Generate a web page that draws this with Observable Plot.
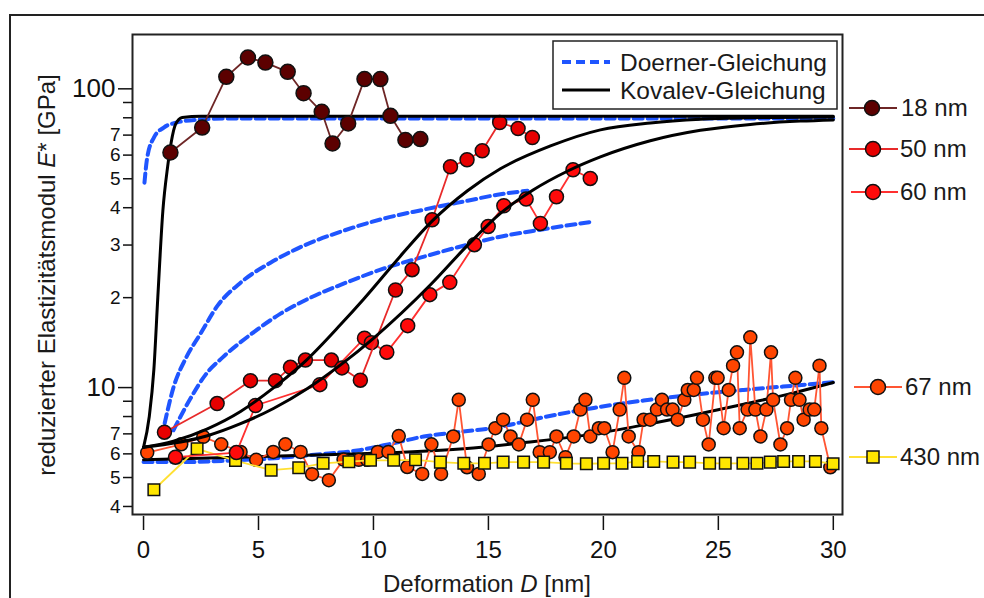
<!DOCTYPE html>
<html><head><meta charset="utf-8">
<script src="https://cdn.jsdelivr.net/npm/d3@7"></script>
<script src="https://cdn.jsdelivr.net/npm/@observablehq/plot@0.6"></script>
<style>
html,body{margin:0;padding:0;background:#fff;overflow:hidden;}
#wrap{position:relative;width:984px;height:598px;overflow:hidden;}
#border{position:absolute;left:9px;top:14px;width:1200px;height:1200px;border:2px solid #222;box-sizing:border-box;}
#chart{position:absolute;left:0;top:0;}
</style></head><body>
<div id="wrap"><div id="border"></div><div id="chart"></div></div>
<script>
// ---------- tick values ----------
const xTicks = [0, 5, 10, 15, 20, 25, 30];
const yMajorTicks = [10, 100];
const yLabeledMinorTicks = [4, 5, 6, 7, 20, 30, 40, 50, 60, 70];
const yUnlabeledTicks = [8, 9, 80, 90];

// ---------- measured series ----------
const n18x = [1.17,2.55,3.60,4.54,5.30,6.27,6.96,7.75,8.22,8.90,9.61,10.30,10.74,11.39,12.04];
const n18y = [61.2,74.2,109.7,127.3,122.4,114,96.7,83.8,65.6,76.6,107.8,107.8,81.2,67.4,67.9];

const n50x = [0.91,3.20,4.65,5.74,6.39,7.04,8.17,8.63,9.43,10.96,11.68,12.55,13.35,14.07,14.73,15.49,16.29,16.91];
const n50y = [7.09,8.84,10.55,10.55,11.69,12.36,12.36,11.64,10.59,21.22,24.81,36.46,54.84,57.88,62.03,77.15,73.66,68.72];

const n60x = [1.39,4.04,4.87,7.67,9.61,9.91,10.58,11.49,12.45,13.32,14.39,14.99,15.67,16.64,17.26,17.96,18.68,19.43];
const n60y = [5.85,6.06,8.71,10.23,14.64,14.14,13.14,16.12,20.47,22.50,30.08,34.63,40.61,42.77,35.44,43.53,53.59,50.12];

const n67x = [0.16,1.64,2.60,3.38,4.22,4.90,5.64,6.17,6.83,7.33,8.06,8.70,9.36,9.73,10.19,10.65,11.10,11.47,12.12,12.52,12.94,13.47,13.71,14.07,14.58,15.01,15.30,15.64,15.96,16.32,16.68,16.93,17.23,17.67,17.96,18.35,18.71,19.00,19.22,19.43,19.80,20.04,20.40,20.71,20.91,21.10,21.53,21.75,22.04,22.33,22.55,22.77,23.01,23.23,23.52,23.67,23.93,24.07,24.33,24.58,24.87,24.97,25.23,25.45,25.64,25.81,25.93,26.27,26.39,26.61,26.83,27.09,27.29,27.38,27.70,27.99,28.16,28.35,28.53,28.71,28.97,29.17,29.40,29.48,29.87];
const n67y = [6.06,6.46,6.84,6.46,6.09,5.73,6.09,6.46,6.09,5.13,4.90,5.74,5.73,5.73,6.09,6.09,6.88,5.42,5.14,6.46,5.14,6.86,9.10,5.41,5.14,6.45,7.31,7.81,6.86,6.45,7.81,9.10,6.08,6.08,6.86,5.85,6.86,8.44,9.10,6.86,7.31,7.31,6.08,8.44,10.78,6.86,6.08,7.81,7.81,8.44,9.10,8.44,8.44,7.81,9.10,9.82,9.82,10.78,7.81,6.45,10.78,10.78,7.31,9.82,11.84,13.12,7.31,8.44,14.73,8.44,6.86,8.44,13.12,9.10,6.45,7.31,9.10,10.78,9.10,7.81,8.44,8.44,11.84,7.31,5.41];

const n430x = [0.45,2.33,4.00,5.55,6.75,7.81,8.93,9.87,10.88,11.83,12.91,13.93,14.83,15.64,16.53,17.40,18.39,19.26,20.01,20.81,21.49,22.19,23.03,23.75,24.62,25.30,26.07,26.68,27.26,27.84,28.49,29.22,29.99];
const n430y = [4.55,6.24,5.70,5.29,5.39,5.58,5.65,5.71,5.71,5.73,5.63,5.58,5.58,5.63,5.63,5.63,5.58,5.56,5.58,5.58,5.66,5.66,5.63,5.63,5.58,5.58,5.58,5.58,5.63,5.66,5.66,5.66,5.56];

// ---------- model curves ----------
const dor18x = [0.04,0.16,0.45,0.88,1.47,2.33,3.78,30];
const dor18y = [48.5,58.9,68.7,74.2,77.2,78.8,79.6,79.6];
const dor50x = [0.92,1.30,1.83,2.48,3.22,4.22,5.52,6.96,8.70,10.43,12.17,14.09,15.39,16.70];
const dor50y = [7.6,10.0,12.5,15.16,18.8,22.45,26.18,29.85,33.5,36.75,39.38,42.21,44.2,45.6];
const dor60x = [1.30,2.04,2.70,3.43,4.65,5.96,7.26,8.70,10.43,12.04,14.09,15.52,17.26,19.52];
const dor60y = [7.2,9.19,11.05,12.6,15.04,17.68,20.0,22.28,25.0,27.22,30.08,31.99,33.76,35.91];
const dor67x = [0,1.61,3.78,5.96,7.55,9.29,10.74,12.19,13.86,15.23,17.40,19.58,21.75,23.93,26.10,28.27,30.0];
const dor67y = [5.63,5.63,5.70,5.82,5.97,6.16,6.48,6.86,7.12,7.33,7.96,8.55,9.05,9.47,9.82,10.15,10.42];

const kov18x = [0,0.25,0.45,0.62,0.84,1.05,1.2,1.39,1.68,2.5,30];
const kov18y = [6.31,8.0,11.5,20,39,55,66,76,80.2,80.9,80.9];
const kov50x = [0,1.30,2.78,4.22,5.65,7.04,8.57,9.57,11.17,12.57,14.09,15.52,17.70,19.87,22.04,24.22,26.39,30];
const kov50y = [6.31,6.62,7.28,8.32,9.98,12.27,16.26,19.77,27.54,36.2,45.6,54.0,64.4,72.9,76.9,79.1,80.0,80.5];
const kov60x = [0,2.78,4.22,5.65,7.13,8.57,10.0,12.48,14.09,15.52,16.96,18.43,19.87,22.04,24.22,26.39,28.57,30];
const kov60y = [6.31,6.90,7.57,8.51,9.93,11.91,14.62,22.08,29.92,38.28,45.92,52.97,59.16,66.99,72.61,76.03,77.98,78.7];
const kov67x = [0,6.68,13.93,16.68,19.58,21.75,23.93,26.10,28.27,30.0];
const kov67y = [5.73,5.92,6.24,6.56,7.0,7.5,8.1,8.8,9.6,10.4];

const seriesLabels = ["18 nm", "50 nm", "60 nm", "67 nm", "430 nm"];
const modelLabels = ["Doerner-Gleichung", "Kovalev-Gleichung"];

// ---------- build ----------
const zip = (xs, ys) => xs.map((x, i) => ({x, y: ys[i]}));
const BLUE = "#1f55ff";
const FONT = "'Liberation Sans', Arial, Helvetica, sans-serif";

const dashed = (xs, ys) => Plot.line(zip(xs, ys), {x: "x", y: "y", stroke: BLUE, strokeWidth: 4, strokeDasharray: "9,5", curve: "monotone-x", clip: true});
const solid = (xs, ys) => Plot.line(zip(xs, ys), {x: "x", y: "y", stroke: "#000", strokeWidth: 3, curve: "monotone-x", clip: true});
const dataLine = (xs, ys, c) => Plot.line(zip(xs, ys), {x: "x", y: "y", stroke: c, strokeWidth: 1.8, clip: true});
const dataDots = (xs, ys, fill, r, symbol = "circle") => Plot.dot(zip(xs, ys), {x: "x", y: "y", r, fill, stroke: "#111", strokeWidth: 1.5, symbol, clip: true});

const plot = Plot.plot({
  width: 984, height: 598,
  marginLeft: 132, marginRight: 142, marginTop: 34, marginBottom: 84,
  x: {domain: [-0.48, 30.4]},
  y: {type: "log", domain: [3.76, 152]},
  style: {fontFamily: FONT, color: "#111", background: "transparent", overflow: "visible"},
  marks: [
    dashed(dor18x, dor18y), dashed(dor50x, dor50y), dashed(dor60x, dor60y), dashed(dor67x, dor67y),
    solid(kov67x, kov67y),
    dataLine(n67x, n67y, "#ff5533"), dataDots(n67x, n67y, "#ff4500", 6.5),
    dataLine(n430x, n430y, "#ffe033"), dataDots(n430x, n430y, "#ffe600", 6.5, "square"),
    dataLine(n60x, n60y, "#ff3030"), dataDots(n60x, n60y, "#ff0a0a", 7),
    dataLine(n50x, n50y, "#e82a2a"), dataDots(n50x, n50y, "#e60000", 7),
    solid(kov18x, kov18y), solid(kov50x, kov50y), solid(kov60x, kov60y),
    dataLine(n18x, n18y, "#6e2626"), dataDots(n18x, n18y, "#5c0000", 7.5),
    Plot.frame({stroke: "#222", strokeWidth: 2}),
    Plot.axisX(xTicks, {tickSize: 14, tickPadding: 10, fontSize: 24, label: null, strokeWidth: 1.5, dy: 2}),
    Plot.axisY(yMajorTicks, {tickSize: 14, tickPadding: 3, fontSize: 26, label: null, strokeWidth: 1.5, tickFormat: d => String(d)}),
    Plot.axisY(yLabeledMinorTicks, {tickSize: 9, tickPadding: 3, fontSize: 19, label: null, strokeWidth: 1.5, tickFormat: d => d >= 20 ? String(d / 10) : String(d)}),
    Plot.axisY(yUnlabeledTicks, {tickSize: 9, label: null, strokeWidth: 1.5, tickFormat: () => ""})
  ]
});
document.getElementById("chart").appendChild(plot);

// ---------- annotations / legends ----------
const svg = d3.select(plot);
const g = svg.append("g").style("font-family", FONT).attr("fill", "#1a1a1a").attr("text-anchor", "start");

// axis titles with italic symbols
const yt = g.append("text").attr("transform", "translate(55,275) rotate(-90)").attr("text-anchor", "middle").style("font-size", "24px");
yt.append("tspan").text("reduzierter Elastizitätsmodul ");
yt.append("tspan").attr("font-style", "italic").text("E");
yt.append("tspan").text("* [GPa]");
const xt = g.append("text").attr("x", 487).attr("y", 592).attr("text-anchor", "middle").style("font-size", "24px");
xt.append("tspan").text("Deformation ");
xt.append("tspan").attr("font-style", "italic").text("D");
xt.append("tspan").text(" [nm]");

// in-plot legend box
g.append("rect").attr("x", 553).attr("y", 41).attr("width", 284).attr("height", 68)
  .attr("fill", "#fff").attr("stroke", "#222").attr("stroke-width", 1.5);
g.append("line").attr("x1", 562).attr("x2", 610).attr("y1", 62).attr("y2", 62)
  .attr("stroke", BLUE).attr("stroke-width", 4).attr("stroke-dasharray", "9,5");
g.append("line").attr("x1", 562).attr("x2", 610).attr("y1", 90).attr("y2", 90)
  .attr("stroke", "#000").attr("stroke-width", 3);
modelLabels.forEach((t, i) => g.append("text").attr("x", 620).attr("y", 62 + i * 28).attr("dy", "0.35em")
  .attr("text-anchor", "start").style("font-size", "24.5px").text(t));

// right-side series legend
const rl = [
  {y: 108, line: "#6e2626", fill: "#5c0000", x0: 849, x1: 897, mx: 872, tx: 901, sq: false},
  {y: 149, line: "#e82a2a", fill: "#e60000", x0: 849, x1: 898, mx: 873, tx: 900, sq: false},
  {y: 192, line: "#ff3030", fill: "#ff0a0a", x0: 851, x1: 898, mx: 873, tx: 900, sq: false},
  {y: 387, line: "#ff5533", fill: "#ff4500", x0: 854, x1: 902, mx: 878, tx: 905, sq: false},
  {y: 457, line: "#ffe033", fill: "#ffe600", x0: 849, x1: 897, mx: 873, tx: 900, sq: true}
];
rl.forEach((e, i) => {
  g.append("line").attr("x1", e.x0).attr("x2", e.x1).attr("y1", e.y).attr("y2", e.y).attr("stroke", e.line).attr("stroke-width", 1.8);
  if (e.sq) g.append("rect").attr("x", e.mx - 6).attr("y", e.y - 6).attr("width", 12).attr("height", 12).attr("fill", e.fill).attr("stroke", "#111").attr("stroke-width", 1.5);
  else g.append("circle").attr("cx", e.mx).attr("cy", e.y).attr("r", 7.5).attr("fill", e.fill).attr("stroke", "#111").attr("stroke-width", 1.5);
  g.append("text").attr("x", e.tx).attr("y", e.y).attr("dy", "0.35em").attr("text-anchor", "start").style("font-size", "24px").text(seriesLabels[i]);
});
</script></body></html>
